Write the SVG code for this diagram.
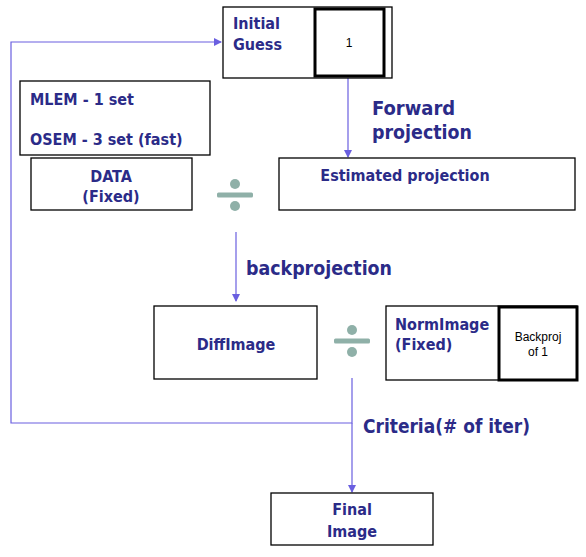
<svg xmlns="http://www.w3.org/2000/svg" width="586" height="557" viewBox="0 0 586 557">
<defs>
<style>
.box{fill:#fff;stroke:#000;stroke-width:1.3}
.thick{fill:#fff;stroke:#000;stroke-width:3}
.t{font-family:"DejaVu Sans Condensed","DejaVu Sans",sans-serif;font-stretch:condensed;font-weight:bold;fill:#2b2b88;font-size:16px}
.big{font-size:20px}
.sm{font-family:"Liberation Sans",Arial,sans-serif;font-size:12px;fill:#000}
.c{fill:none;stroke:#6a5fe0;stroke-width:1.2}
.div{fill:#8fb0a8}
</style>
<marker id="ah" markerWidth="8" markerHeight="8" refX="7" refY="4" orient="auto" markerUnits="userSpaceOnUse">
<path d="M0,0 L8,4 L0,8 Z" fill="#6a5fe0"/>
</marker>
<g id="divsym">
<rect x="-18" y="-2.5" width="36" height="5" rx="1.5" class="div"/>
<circle cx="0" cy="-11" r="5" class="div"/>
<circle cx="0" cy="11" r="5" class="div"/>
</g>
</defs>
<rect width="586" height="557" fill="#fff"/>
<g id="connectors">
<polyline class="c" points="352,378 352,423 11,423 11,42 221,42" marker-end="url(#ah)"/>
<line class="c" x1="348" y1="78" x2="348" y2="157" marker-end="url(#ah)"/>
<line class="c" x1="236" y1="232" x2="236" y2="301" marker-end="url(#ah)"/>
<line class="c" x1="352" y1="423" x2="352" y2="492" marker-end="url(#ah)"/>
</g>
<g id="initial-guess">
<rect class="box" x="223" y="7" width="169" height="71"/>
<rect class="thick" x="315" y="9" width="69" height="67"/>
<text class="t" x="233" y="29">Initial</text>
<text class="t" x="233" y="50">Guess</text>
<text class="sm" x="349" y="47" text-anchor="middle">1</text>
</g>
<g id="methods">
<rect class="box" x="20" y="81" width="190" height="74"/>
<text class="t" x="30" y="105">MLEM - 1 set</text>
<text class="t" x="30" y="145">OSEM - 3 set (fast)</text>
</g>
<g id="data">
<rect class="box" x="31" y="158" width="161" height="52"/>
<text class="t" x="111" y="182" text-anchor="middle">DATA</text>
<text class="t" x="111" y="202" text-anchor="middle">(Fixed)</text>
</g>
<g id="div1"><use href="#divsym" x="235" y="195"/></g>
<g id="estimated">
<rect class="box" x="279" y="158" width="296" height="52"/>
<text class="t" x="405" y="181" text-anchor="middle">Estimated projection</text>
</g>
<g id="forward-label">
<text class="t big" x="372" y="115">Forward</text>
<text class="t big" x="372" y="139" textLength="100" lengthAdjust="spacingAndGlyphs">projection</text>
</g>
<g id="back-label"><text class="t big" x="246" y="275" textLength="146" lengthAdjust="spacingAndGlyphs">backprojection</text></g>
<g id="diffimage">
<rect class="box" x="154" y="306" width="163" height="73"/>
<text class="t" x="236" y="350" text-anchor="middle">DiffImage</text>
</g>
<g id="div2"><use href="#divsym" x="352" y="341"/></g>
<g id="normimage">
<rect class="box" x="386" y="306" width="191" height="74"/>
<rect class="thick" x="499" y="307" width="78" height="73"/>
<text class="t" x="395" y="330">NormImage</text>
<text class="t" x="395" y="350">(Fixed)</text>
<text class="sm" x="538" y="341" text-anchor="middle">Backproj</text>
<text class="sm" x="538" y="356" text-anchor="middle">of 1</text>
</g>
<g id="criteria-label"><text class="t big" x="363" y="433" textLength="167" lengthAdjust="spacingAndGlyphs">Criteria(# of iter)</text></g>
<g id="final">
<rect class="box" x="271" y="493" width="162" height="52"/>
<text class="t" x="352" y="515" text-anchor="middle">Final</text>
<text class="t" x="352" y="537" text-anchor="middle">Image</text>
</g>
</svg>
